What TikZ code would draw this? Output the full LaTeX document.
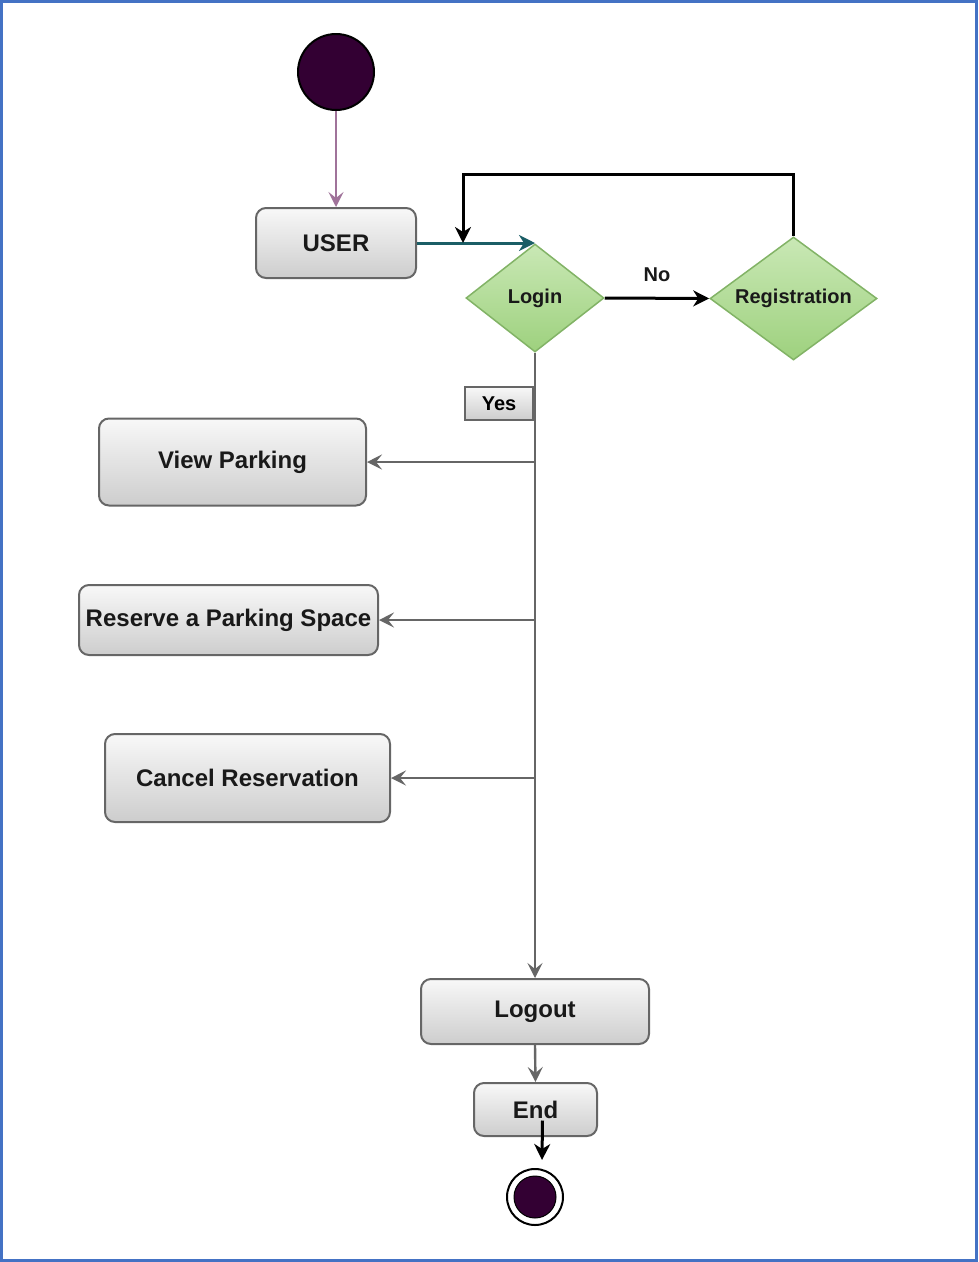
\documentclass[tikz,border=0pt]{standalone}
\usepackage{fontspec}
\setmainfont{Liberation Sans}
\usetikzlibrary{shapes.geometric,arrows.meta,calc}
\definecolor{frameblue}{HTML}{4472C4}
\definecolor{startpurple}{HTML}{330033}
\definecolor{pinkline}{HTML}{A0739A}
\definecolor{tealline}{HTML}{1B5E66}
\definecolor{boxline}{HTML}{666666}
\definecolor{greenline}{HTML}{82B366}
\definecolor{greentop}{HTML}{C9E8B5}
\definecolor{greenbot}{HTML}{9ED17E}
\definecolor{graytop}{HTML}{F8F8F8}
\definecolor{graybot}{HTML}{CDCDCD}
\tikzset{
  actbox/.style={rectangle, rounded corners=10pt, draw=boxline, line width=2pt,
    top color=graytop, bottom color=graybot, inner sep=0pt, text=black!90,
    font=\fontsize{24}{28}\selectfont\bfseries},
  decbox/.style={diamond, draw=greenline, line width=1.5pt, top color=greentop,
    bottom color=greenbot, inner sep=0pt},
  dectext/.style={font=\fontsize{20}{24}\selectfont\bfseries, text=black!90},
  grayarrow/.style={draw=boxline, line width=2.4pt, -{Stealth[length=15pt,width=15pt,inset=6pt]}},
  blackarrow/.style={draw=black, line width=3pt, -{Stealth[length=16pt,width=16pt,inset=5pt]}},
  tealarrow/.style={draw=tealline, line width=3pt, -{Stealth[length=16pt,width=16pt,inset=5pt]}},
  pinkarrow/.style={draw=pinkline, line width=2.2pt, -{Stealth[length=15pt,width=15pt,inset=6pt]}},
}
\begin{document}
\begin{tikzpicture}[x=1pt,y=-1pt]
\useasboundingbox (0,0) rectangle (978,1262);
\draw[frameblue, line width=3pt] (1.5,1.5) rectangle (976.5,1260.5);

\node[circle, draw=black, line width=2pt, fill=startpurple, minimum size=76pt, inner sep=0pt] (start) at (336,72) {};
\node[actbox, minimum width=160pt, minimum height=70pt] (user) at (336,243) {USER};
\node[decbox, minimum width=138pt, minimum height=108pt, label={[dectext]center:Login}] (login) at (535,298) {};
\node[decbox, minimum width=167pt, minimum height=123pt, label={[dectext]center:Registration}] (reg) at (793.5,298.5) {};
\node[rectangle, draw=boxline, line width=2pt, top color=graytop, bottom color=graybot,
  minimum width=68pt, minimum height=33pt, inner sep=0pt, font=\fontsize{20}{24}\selectfont\bfseries] (yes) at (499,403.5) {Yes};
\node[actbox, minimum width=267pt, minimum height=87pt] (view) at (232.5,462) {View Parking};
\node[actbox, minimum width=299pt, minimum height=70pt] (reserve) at (228.5,620) {Reserve a Parking Space};
\node[actbox, minimum width=285pt, minimum height=88pt] (cancel) at (247.5,778) {Cancel Reservation};
\node[actbox, minimum width=228pt, minimum height=65pt] (logout) at (535,1011.5) {Logout};
\node[actbox, minimum width=123pt, minimum height=53pt] (end) at (535.5,1109.5) {End};
\node[circle, draw=black, line width=2pt, fill=white, minimum size=56pt, inner sep=0pt] (final) at (535,1197) {};
\node[circle, draw=black, line width=1pt, fill=startpurple, minimum size=42pt, inner sep=0pt] (finalin) at (final.center) {};

\coordinate (loopend) at (463,243);
\coordinate (looptop) at (0,174);

\draw[pinkarrow] (start.south) -- (user.north);
\draw[tealarrow] (user.east) -- (user.east -| login.north);
\draw[blackarrow] (reg.north) -- (reg.north |- looptop) -| (loopend);
\draw[blackarrow] (login.east) -- node[midway, above=12pt, dectext]{No} (reg.west);
\draw[grayarrow] (login.south) -- (logout.north);
\draw[grayarrow] (login.south |- view.east) -- (view.east);
\draw[grayarrow] (login.south |- reserve.east) -- (reserve.east);
\draw[grayarrow] (login.south |- cancel.east) -- (cancel.east);
\draw[grayarrow] (logout.south) -- (end.north);
\draw[blackarrow] ($(end.center)+(7,11)$) -- ($(final.north)+(7,-8)$);
\end{tikzpicture}
\end{document}
